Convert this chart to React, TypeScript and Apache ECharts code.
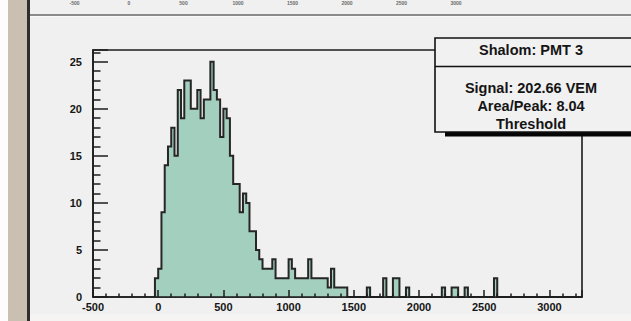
import React, { useEffect, useRef } from "react";
import * as echarts from "echarts";

// Histogram: bins of width 25 starting at -25 (counts)
const binStart = -25;
const binWidth = 25;
const counts = [
  2, 3, 9, 14, 16, 18, 15, 22, 19, 23, 23, 20, 20, 22, 19, 21, 21, 25, 22, 21,
  17, 20, 19, 15, 12, 12, 9, 11, 10, 7, 7, 5, 4, 3, 3, 3, 4, 2, 2, 2,
  2, 4, 3, 2, 2, 2, 2, 4, 2, 2, 2, 2, 2, 1, 3, 1, 1, 1, 1, 0,
  0, 0, 0, 0, 0, 1, 0, 0, 0, 0, 2, 0, 0, 2, 2, 0, 0, 1, 0, 0,
  0, 0, 0, 0, 0, 0, 0, 0, 1, 0, 0, 1, 1, 0, 0, 1, 0, 0, 0, 0,
  0, 0, 0, 0, 2,
];

const xMin = -500;
const xMax = 3250;
const xStep = 500;
const yMin = 0;
const yMax = 26.25;
const yStep = 5;
const xTickValues = [-500, 0, 500, 1000, 1500, 2000, 2500, 3000];

const statsTitle = "Shalom: PMT 3";
const statsLines = ["Signal: 202.66 VEM", "Area/Peak: 8.04", "Threshold"];

const FONT = "'Liberation Sans', Arial, Helvetica, sans-serif";
const INK = "#1c1c1c";

export default function App() {
  const ref = useRef<HTMLDivElement>(null);

  useEffect(() => {
    const el = ref.current;
    if (!el) return;
    const chart = echarts.init(el, null, { renderer: "svg", width: 631, height: 321 });

    const pts: number[][] = [[binStart, 0]];
    counts.forEach((c, i) => pts.push([binStart + i * binWidth, c]));
    pts.push([binStart + counts.length * binWidth, 0]);
    pts.push([xMax, 0]);

    const upperX = (v: number) => 129 + v * 0.109;

    const graphics: any[] = [
      // left white margin + tan strip + dark edge
      { type: "rect", shape: { x: 0, y: 0, width: 8, height: 321 }, style: { fill: "#fcfcfc" }, silent: true },
      { type: "rect", shape: { x: 8, y: 0, width: 19, height: 321 }, style: { fill: "#c9c0b2" }, silent: true },
      { type: "rect", shape: { x: 27, y: 0, width: 3, height: 321 }, style: { fill: "#2e2e2e" }, silent: true },
      // separator line at top
      { type: "rect", shape: { x: 30, y: 14, width: 601, height: 2 }, style: { fill: "#8a8a8a" }, silent: true },
      { type: "rect", shape: { x: 30, y: 16, width: 601, height: 1 }, style: { fill: "#fafafa" }, silent: true },
      // faint bottom band
      { type: "rect", shape: { x: 30, y: 314, width: 601, height: 7 }, style: { fill: "#f6f3f3" }, silent: true },
      // stats box shadow
      { type: "rect", z: 99, shape: { x: 445, y: 132, width: 200, height: 4.5 }, style: { fill: "#050505" }, silent: true },
      // stats box
      { type: "rect", z: 100, shape: { x: 435, y: 38, width: 210, height: 94 }, style: { fill: "#f1f1f1", stroke: "#111", lineWidth: 1.6 }, silent: true },
      { type: "line", z: 101, shape: { x1: 435, y1: 66.5, x2: 631, y2: 66.5 }, style: { stroke: "#111", lineWidth: 1.6 }, silent: true },
      { type: "text", z: 102, style: { text: statsTitle, x: 531, y: 50, align: "center", verticalAlign: "middle", font: `bold 14.5px ${FONT}`, fill: "#151515" }, silent: true },
      ...statsLines.map((t, i) => ({
        type: "text",
        z: 102,
        style: { text: t, x: 531, y: 88 + i * 18, align: "center", verticalAlign: "middle", font: `bold 14.5px ${FONT}`, fill: "#151515" },
        silent: true,
      })),
      // tick labels of the pad above (only a sliver shows in the reference)
      ...xTickValues.map((v) => ({
        type: "text",
        style: { text: String(v), x: upperX(v), y: 0.5, align: "center", verticalAlign: "top", font: `bold 5px ${FONT}`, fill: "#6a6a6a" },
        silent: true,
      })),
    ];

    const tickLine = { color: INK, width: 1.5 };
    const labelStyle = {
      color: "#161616",
      fontWeight: "bold" as const,
      fontSize: 11,
      fontFamily: FONT,
      formatter: (v: number) => String(v),
      showMaxLabel: false,
    };

    chart.setOption({
      animation: false,
      backgroundColor: "#f0f0f0",
      grid: {
        left: 93,
        right: 49,
        top: 50,
        bottom: 24,
        show: true,
        borderColor: INK,
        borderWidth: 1.6,
        backgroundColor: "transparent",
        containLabel: false,
        outerBoundsMode: "none",
      },
      xAxis: {
        type: "value",
        min: xMin,
        max: xMax,
        interval: xStep,
        z: 5,
        axisLine: { show: true, onZero: false, lineStyle: { color: INK, width: 1.6 } },
        axisTick: { show: true, inside: true, length: 7, lineStyle: tickLine },
        minorTick: { show: true, splitNumber: 5, length: 3.5, lineStyle: tickLine },
        splitLine: { show: false },
        axisLabel: { ...labelStyle, margin: 4 },
      },
      yAxis: {
        type: "value",
        min: yMin,
        max: yMax,
        interval: yStep,
        z: 5,
        axisLine: { show: true, onZero: false, lineStyle: { color: INK, width: 1.6 } },
        axisTick: { show: true, inside: true, length: 15, lineStyle: tickLine },
        minorTick: { show: true, splitNumber: 5, length: 7.5, lineStyle: tickLine },
        splitLine: { show: false },
        axisLabel: { ...labelStyle, margin: 11 },
      },
      series: [
        {
          type: "line",
          step: "end",
          symbol: "none",
          data: pts,
          lineStyle: { color: "#262626", width: 2, join: "miter" },
          areaStyle: { color: "#a3cfbe", opacity: 1 },
          z: 2,
        },
      ],
      graphic: { elements: graphics },
    });

    return () => chart.dispose();
  }, []);

  return (
    <div
      ref={ref}
      style={{ position: "fixed", left: 0, top: 0, width: 631, height: 321 }}
    />
  );
}
